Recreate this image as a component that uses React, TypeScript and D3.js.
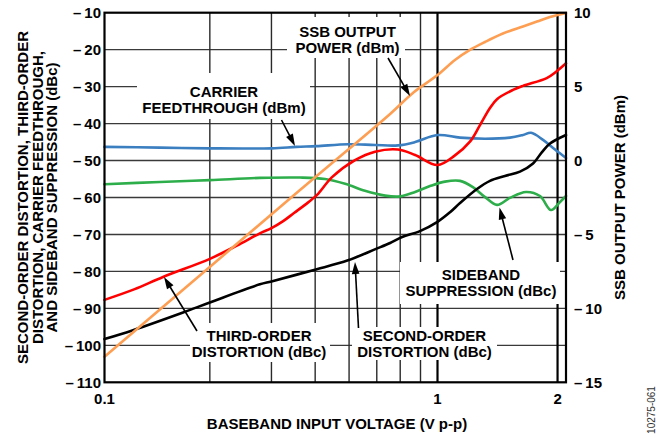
import React from 'react';
import * as d3 from 'd3';

const W = 667;
const H = 438;

// Axis ticks
const leftTicks = [-110, -100, -90, -80, -70, -60, -50, -40, -30, -20, -10];
const rightTicks = [10, 5, 0, -5, -10, -15];
const minorX = [0.2, 0.3, 0.4, 0.5, 0.6, 0.7, 0.8];
const majorX = [1, 2];
const xTickValues = [0.1, 1, 2];
const xTickLabels = ['0.1', '1', '2'];

// Series: [baseband input voltage (V p-p), value]
const carrierFeedthrough: [number, number][] = [
  [0.1, -46.3], [0.144, -46.5], [0.2, -46.7], [0.3, -46.7], [0.354, -46.3], [0.403, -46.1],
  [0.497, -45.6], [0.593, -45.8], [0.69, -45.9], [0.772, -45.0], [1.0, -43.1], [1.139, -43.8],
  [1.316, -44.1], [1.519, -43.8], [1.638, -43.1], [1.716, -42.5], [1.839, -44.4], [1.971, -47.0],
  [2.1, -49.3],
];
const sidebandSuppression: [number, number][] = [
  [0.1, -56.4], [0.144, -55.8], [0.2, -55.3], [0.278, -54.7], [0.362, -54.6], [0.427, -55.0],
  [0.487, -56.3], [0.555, -58.2], [0.634, -59.5], [0.699, -59.7], [0.772, -58.5], [0.906, -56.9],
  [1.044, -55.7], [1.139, -55.5], [1.227, -57.2], [1.316, -59.9], [1.41, -62.0], [1.519, -60.1],
  [1.667, -58.5], [1.807, -59.6], [1.926, -63.4], [2.029, -61.2], [2.1, -59.6],
];
const thirdOrder: [number, number][] = [
  [0.1, -87.7], [0.122, -84.8], [0.147, -81.5], [0.2, -76.6], [0.239, -73.0], [0.278, -69.7],
  [0.3, -68.3], [0.324, -66.4], [0.348, -64.2], [0.374, -62.0], [0.405, -59.3], [0.447, -54.5],
  [0.52, -49.9], [0.593, -47.6], [0.69, -47.0], [0.772, -48.5], [1.0, -51.2], [1.106, -48.6],
  [1.206, -44.9], [1.278, -40.4], [1.354, -35.8], [1.41, -33.4], [1.546, -30.9], [1.638, -29.8],
  [1.879, -27.7], [1.983, -26.0], [2.1, -23.7],
];
const secondOrder: [number, number][] = [
  [0.1, -98.3], [0.1206, -95.9], [0.1677, -91.1], [0.2, -88.4], [0.278, -83.5], [0.3, -82.7],
  [0.397, -79.6], [0.4965, -77.0], [0.597, -73.9], [0.655, -72.3], [0.709, -70.7], [0.797, -69.1],
  [1.0, -66.6], [1.075, -64.0], [1.139, -61.5], [1.256, -57.7], [1.354, -55.5], [1.476, -54.2],
  [1.61, -53.0], [1.736, -50.8], [1.828, -47.7], [1.915, -45.4], [2.1, -43.1],
];
// right axis (dBm)
const ssbOutputPower: [number, number][] = [
  [0.1, -13.27], [0.362, -2.0], [0.655, 3.15], [0.761, 4.57], [1.0, 5.78], [1.106, 6.8],
  [1.206, 7.48], [1.316, 8.02], [1.459, 8.59], [1.638, 9.07], [1.776, 9.4], [1.915, 9.71],
  [2.1, 9.98],
];

const leftTitle = ['SECOND-ORDER DISTORTION, THIRD-ORDER', 'DISTORTION, CARRIER FEEDTHROUGH,', 'AND SIDEBAND SUPPRESSION (dBc)'];

const FONT = 'Liberation Sans, Arial, Helvetica, sans-serif';

const PL = 104.5, PR = 566, PT = 12.7, PB = 382.3;

const x = d3.scaleLog().domain([0.1, 0.8, 1, 2.1]).range([PL, 420.5, 437.5, PR]);
const yL = d3.scaleLinear().domain([-110, -10]).range([PB, PT]);
const yR = d3.scaleLinear().domain([-15, 10]).range([PB, PT]);

type Ann = { lines: string[]; cx: number; y0: number; box: [number, number, number, number]; arrow: [number, number, number, number] };
const annotations: Ann[] = [
  { lines: ['SSB OUTPUT', 'POWER (dBm)'], cx: 347.5, y0: 36.6, box: [287, 17, 405, 58], arrow: [388, 58, 410, 96] },
  { lines: ['CARRIER', 'FEEDTHROUGH (dBm)'], cx: 224, y0: 97.1, box: [137, 73, 310, 119], arrow: [281.5, 120, 295, 146] },
  { lines: ['THIRD-ORDER', 'DISTORTION (dBc)'], cx: 259, y0: 341.1, box: [190, 323, 330, 362], arrow: [197, 331, 164, 277] },
  { lines: ['SECOND-ORDER', 'DISTORTION (dBc)'], cx: 424.5, y0: 340.6, box: [352, 327, 497, 360], arrow: [358.5, 328, 355, 262] },
  { lines: ['SIDEBAND', 'SUPPRESSION (dBc)'], cx: 481, y0: 279.6, box: [400, 262, 560, 304], arrow: [513, 260, 499.5, 207.5] },
];
const LINE_GAP = 16;

const fmt = (t: number) => (t < 0 ? '\u2013\u2009' + Math.abs(t) : String(t));

function Arrow({ a }: { a: [number, number, number, number] }) {
  const [x1, y1, x2, y2] = a;
  const dx = x2 - x1, dy = y2 - y1;
  const len = Math.hypot(dx, dy);
  const ux = dx / len, uy = dy / len;
  const hl = 12, hw = 3.8;
  const bx = x2 - ux * hl, by = y2 - uy * hl;
  const pts = `${x2},${y2} ${bx - uy * hw},${by + ux * hw} ${bx + uy * hw},${by - ux * hw}`;
  return (
    <g>
      <line x1={x1} y1={y1} x2={bx + ux * 2} y2={by + uy * 2} stroke="#000" strokeWidth={1.6} />
      <polygon points={pts} fill="#000" />
    </g>
  );
}

export default function App() {
  const lineL = d3.line<[number, number]>().x(d => x(d[0])).y(d => yL(d[1])).curve(d3.curveCatmullRom.alpha(0.5));
  const lineR = d3.line<[number, number]>().x(d => x(d[0])).y(d => yR(d[1])).curve(d3.curveCatmullRom.alpha(0.5));

  const series = [
    { d: lineL(sidebandSuppression), c: '#2eae4b' },
    { d: lineL(carrierFeedthrough), c: '#3b7fc1' },
    { d: lineL(secondOrder), c: '#000000' },
    { d: lineL(thirdOrder), c: '#ff0000' },
    { d: lineR(ssbOutputPower), c: '#fd9e52' },
  ];

  return (
    <svg width={W} height={H} style={{ position: 'absolute', left: 0, top: 0, background: '#fff' }} fontFamily={FONT}>
      <rect x={0} y={0} width={W} height={H} fill="#fff" />
      {/* horizontal grid */}
      {leftTicks.slice(1, -1).map(t => (
        <line key={'h' + t} x1={PL} x2={PR} y1={yL(t)} y2={yL(t)} stroke="#3a3a3a" strokeWidth={1.4} />
      ))}
      {minorX.map(v => (
        <line key={'v' + v} x1={x(v)} x2={x(v)} y1={PT} y2={PB} stroke="#2a2a2a" strokeWidth={1.4} />
      ))}
      {majorX.map(v => (
        <line key={'V' + v} x1={x(v)} x2={x(v)} y1={PT} y2={PB} stroke="#000" strokeWidth={2.2} />
      ))}
      {/* label backgrounds */}
      {annotations.map((a, i) => (
        <rect key={'b' + i} x={a.box[0]} y={a.box[1]} width={a.box[2] - a.box[0]} height={a.box[3] - a.box[1]} fill="#fff" />
      ))}
      {/* curves */}
      {series.map((s, i) => (
        <path key={'s' + i} d={s.d || ''} fill="none" stroke={s.c} strokeWidth={2.6} strokeLinejoin="round" strokeLinecap="round" />
      ))}
      {/* frame */}
      <rect x={PL} y={PT} width={PR - PL} height={PB - PT} fill="none" stroke="#000" strokeWidth={2.2} />
      {/* annotations */}
      {annotations.map((a, i) => (
        <g key={'a' + i}>
          <text x={a.cx} y={a.y0} textAnchor="middle" fontSize={15} fontWeight="bold" fill="#000">
            {a.lines.map((l, j) => (
              <tspan key={j} x={a.cx} dy={j === 0 ? 0 : LINE_GAP}>{l}</tspan>
            ))}
          </text>
          <Arrow a={a.arrow} />
        </g>
      ))}
      {/* left tick labels */}
      {leftTicks.map(t => (
        <text key={'lt' + t} x={101} y={yL(t)} dy="0.36em" textAnchor="end" fontSize={15} fontWeight="bold">{fmt(t)}</text>
      ))}
      {/* right tick labels */}
      {rightTicks.map(t => (
        <text key={'rt' + t} x={574} y={yR(t)} dy="0.36em" textAnchor="start" fontSize={15} fontWeight="bold">{fmt(t)}</text>
      ))}
      {/* x tick labels */}
      {xTickValues.map((v, i) => (
        <text key={'xt' + v} x={x(v)} y={404} textAnchor="middle" fontSize={15} fontWeight="bold">{xTickLabels[i]}</text>
      ))}
      {/* axis titles */}
      <text x={337} y={429} textAnchor="middle" fontSize={15} fontWeight="bold">BASEBAND INPUT VOLTAGE (V p-p)</text>
      <text transform={`translate(625,${(PT + PB) / 2}) rotate(-90)`} textAnchor="middle" fontSize={15} fontWeight="bold">SSB OUTPUT POWER (dBm)</text>
      <text transform={`translate(28,${(PT + PB) / 2}) rotate(-90)`} textAnchor="middle" fontSize={15} fontWeight="bold">
        {leftTitle.map((l, i) => (
          <tspan key={i} x={0} dy={i === 0 ? 0 : 14.5}>{l}</tspan>
        ))}
      </text>
      <text transform={`translate(655,410) rotate(-90)`} textAnchor="middle" fontSize={10} fill="#333">10275-061</text>
    </svg>
  );
}
